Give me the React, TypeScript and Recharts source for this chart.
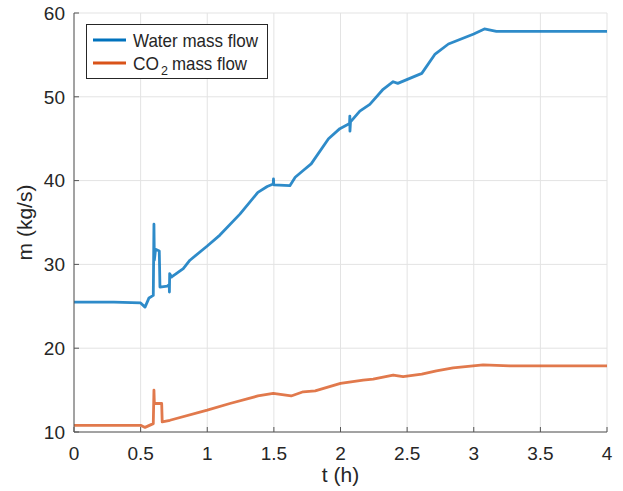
import React from 'react';
import { LineChart, Line, XAxis, YAxis, CartesianGrid } from 'recharts';

const waterT = [0, 0.3, 0.5, 0.533, 0.563, 0.595, 0.6, 0.603, 0.612, 0.64, 0.645, 0.7, 0.715, 0.716, 0.718, 0.733, 0.82, 0.87, 1.0, 1.095, 1.245, 1.38, 1.45, 1.495, 1.497, 1.499, 1.62, 1.66, 1.72, 1.78, 1.91, 1.995, 2.068, 2.07, 2.071, 2.075, 2.145, 2.22, 2.32, 2.395, 2.43, 2.61, 2.71, 2.81, 3.0, 3.08, 3.17, 3.35, 4.0];
const waterV = [25.5, 25.5, 25.4, 24.9, 26.0, 26.3, 34.8, 30.5, 31.8, 31.6, 27.3, 27.4, 27.6, 26.7, 28.9, 28.5, 29.5, 30.5, 32.2, 33.5, 36.0, 38.6, 39.3, 39.6, 40.2, 39.5, 39.4, 40.4, 41.2, 42.0, 45.0, 46.2, 46.8, 47.7, 45.9, 47.0, 48.3, 49.1, 50.9, 51.8, 51.6, 52.8, 55.1, 56.3, 57.5, 58.1, 57.8, 57.8, 57.8];

const co2T = [0, 0.5, 0.533, 0.595, 0.6, 0.603, 0.658, 0.662, 0.72, 1.0, 1.17, 1.38, 1.495, 1.63, 1.72, 1.81, 2.0, 2.17, 2.245, 2.395, 2.47, 2.61, 2.72, 2.845, 3.07, 3.27, 4.0];
const co2V = [10.8, 10.8, 10.55, 11.0, 15.0, 13.4, 13.4, 11.2, 11.4, 12.6, 13.4, 14.3, 14.6, 14.3, 14.8, 14.9, 15.8, 16.2, 16.3, 16.8, 16.6, 16.9, 17.3, 17.65, 18.0, 17.9, 17.9];

const xTicks = [0, 0.5, 1, 1.5, 2, 2.5, 3, 3.5, 4];
const yTicks = [10, 20, 30, 40, 50, 60];

const waterData = waterT.map((t, i) => ({ t, v: waterV[i] }));
const co2Data = co2T.map((t, i) => ({ t, v: co2V[i] }));

const FONT = '"Liberation Sans", Arial, Helvetica, sans-serif';
const TXT = '#262626';
const AX = '#555555';
const TICK = 5;
const TICKFS = 19;
const LABFS = 21;

const BottomTick = (p: any) => (
  <g>
    <line x1={p.x} x2={p.x} y1={p.y} y2={p.y - TICK} stroke={AX} strokeWidth={1} />
    <text x={p.x} y={p.y + 28} textAnchor="middle" fill={TXT} fontSize={TICKFS} fontFamily={FONT}>
      {String(p.payload.value)}
    </text>
  </g>
);
const TopTick = (p: any) => (
  <line x1={p.x} x2={p.x} y1={p.y} y2={p.y + TICK} stroke={AX} strokeWidth={1} />
);
const LeftTick = (p: any) => (
  <g>
    <line x1={p.x} x2={p.x + TICK} y1={p.y} y2={p.y} stroke={AX} strokeWidth={1} />
    <text x={p.x - 9} y={p.y} dy="0.36em" textAnchor="end" fill={TXT} fontSize={TICKFS} fontFamily={FONT}>
      {String(p.payload.value)}
    </text>
  </g>
);
const RightTick = (p: any) => (
  <line x1={p.x} x2={p.x - TICK} y1={p.y} y2={p.y} stroke={AX} strokeWidth={1} />
);

const XLabel = (p: any) => {
  const vb = p.viewBox || {};
  return (
    <text x={vb.x + vb.width / 2} y={482} textAnchor="middle" fill={TXT} fontSize={LABFS} fontFamily={FONT}>
      t (h)
    </text>
  );
};
const YLabel = (p: any) => {
  const vb = p.viewBox || {};
  const cy = vb.y + vb.height / 2;
  return (
    <text x={32} y={cy} transform={`rotate(-90 32 ${cy})`} textAnchor="middle" fill={TXT} fontSize={LABFS} fontFamily={FONT}>
      m (kg/s)
    </text>
  );
};

export default function App() {
  return (
    <div style={{ position: 'absolute', left: 0, top: 0, width: 623, height: 491, background: '#fff' }}>
      <LineChart width={623} height={491} margin={{ top: 13, right: 16, bottom: 0, left: 0 }}>
        <CartesianGrid stroke="#e3e3e3" strokeWidth={1} horizontalValues={yTicks} verticalValues={xTicks} xAxisId="b" yAxisId="l" />
        <XAxis xAxisId="b" dataKey="t" type="number" domain={[0, 4]} ticks={xTicks} allowDuplicatedCategory={false}
          height={59} tickSize={0} tickMargin={0} tick={<BottomTick />} axisLine={{ stroke: AX, strokeWidth: 1 }} tickLine={false}
          interval={0} label={<XLabel />} />
        <XAxis xAxisId="top" orientation="top" dataKey="t" type="number" domain={[0, 4]} ticks={xTicks}
          height={0} tickSize={0} tickMargin={0} tick={<TopTick />} axisLine={{ stroke: AX, strokeWidth: 1 }} tickLine={false} interval={0} />
        <YAxis yAxisId="l" type="number" domain={[10, 60]} ticks={yTicks} width={74} tickSize={0} tickMargin={0}
          tick={<LeftTick />} axisLine={{ stroke: AX, strokeWidth: 1 }} tickLine={false} interval={0} label={<YLabel />} />
        <YAxis yAxisId="r" orientation="right" type="number" domain={[10, 60]} ticks={yTicks} width={0} tickSize={0} tickMargin={0}
          tick={<RightTick />} axisLine={{ stroke: AX, strokeWidth: 1 }} tickLine={false} interval={0} />
        <Line xAxisId="b" yAxisId="l" data={waterData} dataKey="v" type="linear" stroke="#0072BD" strokeOpacity={0.82}
          strokeWidth={2.8} dot={false} isAnimationActive={false} strokeLinejoin="round" />
        <Line xAxisId="b" yAxisId="l" data={co2Data} dataKey="v" type="linear" stroke="#D95319" strokeOpacity={0.78}
          strokeWidth={2.8} dot={false} isAnimationActive={false} strokeLinejoin="round" />
      </LineChart>
      <svg width={183} height={56} style={{ position: 'absolute', left: 86, top: 24 }}>
        <rect x={0.5} y={0.5} width={181} height={54} fill="#fff" stroke="#262626" strokeWidth={1} />
        <line x1={7} x2={40} y1={16} y2={16} stroke="#0072BD" strokeWidth={2.8} />
        <line x1={7} x2={40} y1={39} y2={39} stroke="#D95319" strokeWidth={2.8} />
        <text x={47} y={22.5} fill={TXT} fontSize={18.5} fontFamily={FONT} textLength={125} lengthAdjust="spacingAndGlyphs">Water mass flow</text>
        <text x={47} y={45.5} fill={TXT} fontSize={18.5} fontFamily={FONT} textLength={26} lengthAdjust="spacingAndGlyphs">CO</text>
        <text x={75} y={51} fill={TXT} fontSize={12.5} fontFamily={FONT}>2</text>
        <text x={86} y={45.5} fill={TXT} fontSize={18.5} fontFamily={FONT} textLength={75} lengthAdjust="spacingAndGlyphs">mass flow</text>
      </svg>
    </div>
  );
}
